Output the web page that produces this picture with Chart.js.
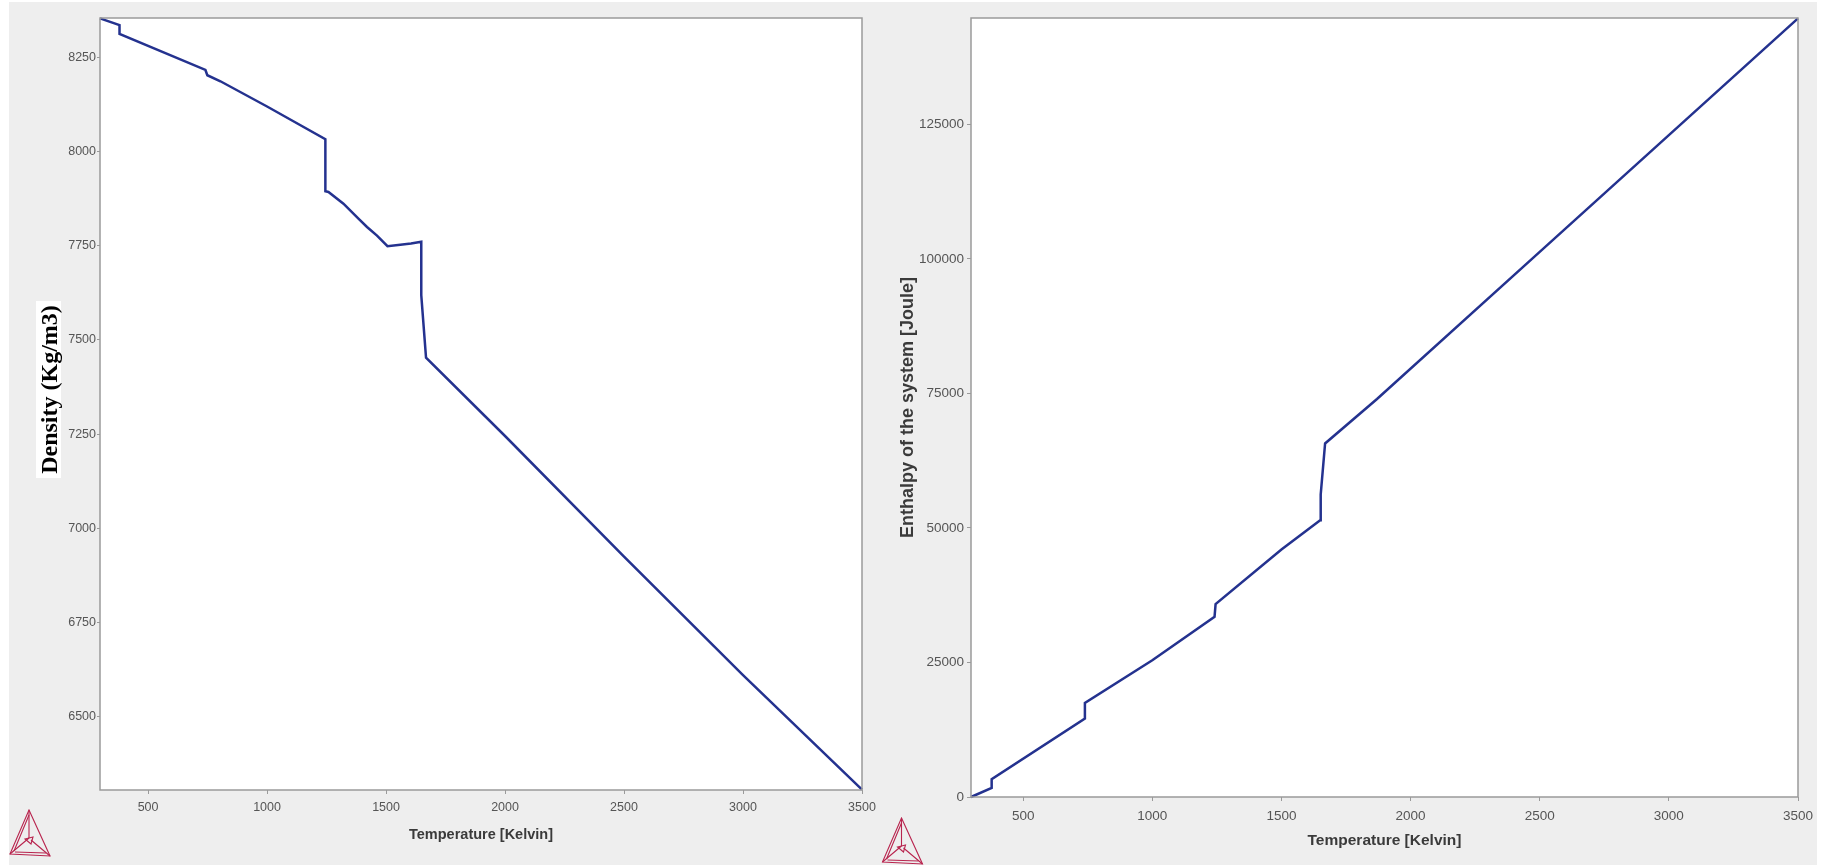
<!DOCTYPE html>
<html>
<head>
<meta charset="utf-8">
<script src="https://cdn.jsdelivr.net/npm/chart.js@4.4.1/dist/chart.umd.min.js"></script>
<style>
  body { margin: 0; background: #fff; width: 1824px; height: 865px; overflow: hidden; position: relative; }
  #panel { position: absolute; left: 9px; top: 2px; width: 1808px; height: 863px; background: #eeeeee; }
  canvas { position: absolute; top: 0; }
  #densityChart { left: 0; }
  #enthalpyChart { left: 862px; }
  #densityLabel {
    position: absolute; left: -40px; top: 377px; width: 177px; height: 25px; line-height: 25px;
    background: #fff; color: #000; text-align: center; white-space: nowrap;
    font: bold 24px "Liberation Serif", "Times New Roman", serif;
    transform: rotate(-90deg);
  }
  .logo { position: absolute; }
</style>
</head>
<body>
<div id="panel"></div>
<canvas id="densityChart" width="900" height="865"></canvas>
<canvas id="enthalpyChart" width="962" height="865"></canvas>
<div id="densityLabel">Density (Kg/m3)</div>
<svg class="logo" style="left:9px;top:809px" width="42" height="48" viewBox="0 0 42 48">
  <g fill="none" stroke="#b8244e" stroke-width="1.1">
    <path d="M20 1 L41 47 L1 45 Z"/>
    <path d="M20 6 L5 42 M6 43 L37 44"/>
    <path d="M20 1 L20 29 M20 29 L1 45 M22 31 L41 47"/>
    <path d="M16 30 L24 28 L22 35 Z"/>
  </g>
</svg>
<svg class="logo" style="left:879px;top:817px" width="47" height="48" viewBox="0 0 42 48">
  <g fill="none" stroke="#b8244e" stroke-width="1.1">
    <path d="M20 1 L41 47 L1 45 Z"/>
    <path d="M20 6 L5 42 M6 43 L37 44"/>
    <path d="M20 1 L20 29 M20 29 L1 45 M22 31 L41 47"/>
    <path d="M16 30 L24 28 L22 35 Z"/>
  </g>
</svg>
<script>
// density vs temperature (left)
const densityTemp = [298, 380, 380, 741, 749, 804, 1000, 1245, 1245, 1258, 1321, 1384, 1420, 1462, 1506, 1560, 1605, 1648, 1648, 1668, 2000, 2500, 3000, 3500];
const densityValue = [8354, 8336, 8313, 8217, 8203, 8187, 8120, 8033, 7895, 7893, 7862, 7822, 7800, 7777, 7749, 7753, 7756, 7761, 7619, 7453, 7245, 6925, 6610, 6306];
const densityTicks = [6500, 6750, 7000, 7250, 7500, 7750, 8000, 8250];

// enthalpy vs temperature (right)
const enthalpyTemp = [298, 378, 378, 739, 739, 1000, 1241, 1245, 1500, 1650, 1652, 1669, 1870, 2500, 3000, 3500];
const enthalpyValue = [0, 1670, 3290, 14575, 17490, 25400, 33500, 35860, 46000, 51440, 56215, 65700, 73950, 101290, 122990, 144700];
const enthalpyTicks = [0, 25000, 50000, 75000, 100000, 125000];

const tempTicks = [500, 1000, 1500, 2000, 2500, 3000, 3500];

const lineColor = '#24328f';
const axisColor = '#9a9a9a';
const tickFont = '"Liberation Sans", Arial, sans-serif';
const titleFont = '"Liberation Sans", Arial, sans-serif';

// white plot area with grey frame
const plotFrame = {
  id: 'plotFrame',
  beforeDraw(chart) {
    const a = chart.chartArea;
    const ctx = chart.ctx;
    ctx.save();
    ctx.fillStyle = '#fff';
    ctx.fillRect(a.left, a.top, a.right - a.left, a.bottom - a.top);
    ctx.restore();
  },
  afterDraw(chart) {
    const a = chart.chartArea;
    const ctx = chart.ctx;
    ctx.save();
    ctx.strokeStyle = axisColor;
    ctx.lineWidth = 1.5;
    ctx.strokeRect(a.left, a.top, a.right - a.left, a.bottom - a.top);
    ctx.restore();
  }
};

function toPoints(xs, ys) {
  return xs.map((x, i) => ({ x: x, y: ys[i] }));
}

new Chart(document.getElementById('densityChart'), {
  type: 'scatter',
  data: {
    datasets: [{
      data: toPoints(densityTemp, densityValue),
      showLine: true,
      borderColor: lineColor,
      borderWidth: 2.5,
      pointRadius: 0,
      clip: false
    }]
  },
  options: {
    responsive: false,
    animation: false,
    devicePixelRatio: 1,
    layout: { padding: { top: 18, right: 38, bottom: 0, left: 0 } },
    plugins: { legend: { display: false }, tooltip: { enabled: false } },
    scales: {
      x: {
        type: 'linear', min: 298, max: 3500,
        afterBuildTicks: (s) => { s.ticks = tempTicks.map(v => ({ value: v })); },
        afterFit: (s) => { s.height = 75; s.paddingLeft = 0; s.paddingRight = 0; },
        grid: { drawOnChartArea: false, tickLength: 4, color: axisColor },
        border: { display: false },
        ticks: { color: '#555', font: { family: tickFont, size: 12.5 }, padding: 6, autoSkip: false, maxRotation: 0, callback: (v) => String(v) },
        title: { display: true, text: 'Temperature [Kelvin]', color: '#3a3a3a', font: { family: titleFont, size: 14.5, weight: 'bold' }, padding: { top: 0, bottom: 21 } }
      },
      y: {
        type: 'linear', min: 6305, max: 8355,
        afterBuildTicks: (s) => { s.ticks = densityTicks.map(v => ({ value: v })); },
        afterFit: (s) => { s.width = 100; s.paddingTop = 0; s.paddingBottom = 0; },
        grid: { drawOnChartArea: false, tickLength: 3, color: axisColor },
        border: { display: false },
        ticks: { color: '#555', font: { family: tickFont, size: 12.5 }, padding: 1, autoSkip: false, callback: (v) => String(v) }
      }
    }
  },
  plugins: [plotFrame]
});

new Chart(document.getElementById('enthalpyChart'), {
  type: 'scatter',
  data: {
    datasets: [{
      data: toPoints(enthalpyTemp, enthalpyValue),
      showLine: true,
      borderColor: lineColor,
      borderWidth: 2.5,
      pointRadius: 0,
      clip: false
    }]
  },
  options: {
    responsive: false,
    animation: false,
    devicePixelRatio: 1,
    layout: { padding: { top: 18, right: 26, bottom: 0, left: 0 } },
    plugins: { legend: { display: false }, tooltip: { enabled: false } },
    scales: {
      x: {
        type: 'linear', min: 298, max: 3500,
        afterBuildTicks: (s) => { s.ticks = tempTicks.map(v => ({ value: v })); },
        afterFit: (s) => { s.height = 68; s.paddingLeft = 0; s.paddingRight = 0; },
        grid: { drawOnChartArea: false, tickLength: 4, color: axisColor },
        border: { display: false },
        ticks: { color: '#555', font: { family: tickFont, size: 13.5 }, padding: 7, autoSkip: false, maxRotation: 0, callback: (v) => String(v) },
        title: { display: true, text: 'Temperature [Kelvin]', color: '#3a3a3a', font: { family: titleFont, size: 15.5, weight: 'bold' }, padding: { top: 0, bottom: 15 } }
      },
      y: {
        type: 'linear', min: 0, max: 144760,
        afterBuildTicks: (s) => { s.ticks = enthalpyTicks.map(v => ({ value: v })); },
        afterFit: (s) => { s.width = 109; s.paddingTop = 0; s.paddingBottom = 0; },
        grid: { drawOnChartArea: false, tickLength: 4, color: axisColor },
        border: { display: false },
        ticks: { color: '#555', font: { family: tickFont, size: 13.5 }, padding: 3, autoSkip: false, callback: (v) => String(v) },
        title: { display: true, text: 'Enthalpy of the system [Joule]', color: '#3a3a3a', font: { family: titleFont, size: 18, weight: 'bold' }, padding: { top: 35, bottom: 0 } }
      }
    }
  },
  plugins: [plotFrame]
});
</script>
</body>
</html>
